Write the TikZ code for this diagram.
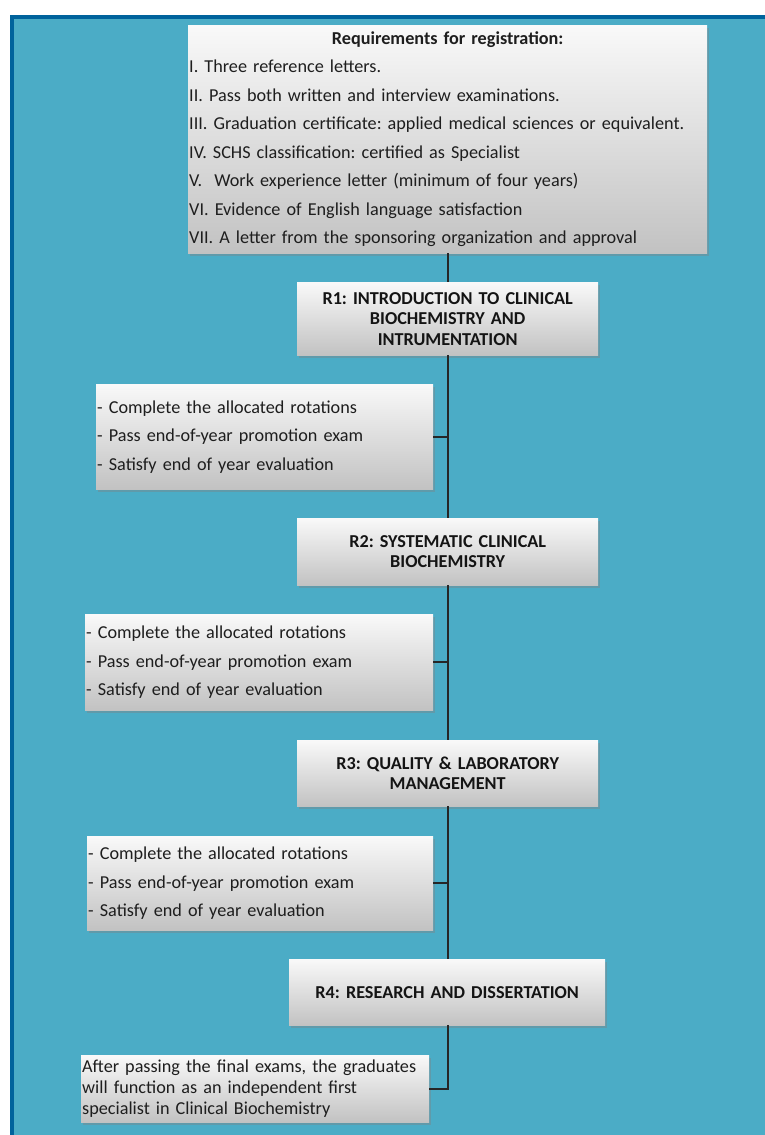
\documentclass[tikz,border=0pt]{standalone}
\usepackage{fontspec}
\setmainfont{Carlito}
\usetikzlibrary{shadows,calc}
\definecolor{bgblue}{HTML}{4BACC6}
\definecolor{frameblue}{HTML}{00639C}
\definecolor{boxtop}{HTML}{F9F9F9}
\definecolor{boxbot}{HTML}{C2C2C2}
\definecolor{txt}{HTML}{1E1E1E}
\begin{document}
\frenchspacing
\begin{tikzpicture}[x=1pt,y=-1pt,
  box/.style={anchor=north west, top color=boxtop, bottom color=boxbot, draw=none,
    inner xsep=1pt, inner ysep=0pt,
    drop shadow={opacity=0.4, shadow xshift=2pt, shadow yshift=-2.5pt},
    text=txt, align=left, font=\fontsize{18.2}{28.5}\selectfont},
  stage/.style={box, align=center, text=black!92, font=\bfseries\fontsize{18.2}{20.5}\selectfont},
  conn/.style={line width=2pt, draw=black!85}]
\useasboundingbox (0,0) rectangle (765,1135);
\fill[bgblue] (10,15) rectangle (765,1135);
\draw[frameblue, line width=4pt] (11.8,1140) -- (11.8,17) -- (770,17);

\node[box, minimum width=519, minimum height=228, text width=517] (req) at (188,25)
 {\makebox[517pt][c]{\bfseries Requirements for registration:}\\
  I. Three reference letters.\\
  II. Pass both written and interview examinations.\\
  III. Graduation certificate: applied medical sciences or equivalent.\\
  IV. SCHS classification: certified as Specialist\\
  V.\ \ Work experience letter (minimum of four years)\\
  VI. Evidence of English language satisfaction\\
  VII. A letter from the sponsoring organization and approval};

\node[stage, minimum width=301, minimum height=73, text width=295] (r1) at (297,282)
 {R1: INTRODUCTION TO CLINICAL\\ BIOCHEMISTRY AND\\ INTRUMENTATION};
\node[box, minimum width=337, minimum height=105, text width=335] (l1) at (96,384)
 {- Complete the allocated rotations\\- Pass end-of-year promotion exam\\- Satisfy end of year evaluation};

\node[stage, minimum width=301, minimum height=67, text width=295] (r2) at (297,518)
 {R2: SYSTEMATIC CLINICAL\\ BIOCHEMISTRY};
\node[box, minimum width=348, minimum height=96, text width=346] (l2) at (85,614)
 {- Complete the allocated rotations\\- Pass end-of-year promotion exam\\- Satisfy end of year evaluation};

\node[stage, minimum width=301, minimum height=66, text width=295] (r3) at (297,740)
 {R3: QUALITY \& LABORATORY\\ MANAGEMENT};
\node[box, minimum width=346, minimum height=94, text width=344] (l3) at (87,836)
 {- Complete the allocated rotations\\- Pass end-of-year promotion exam\\- Satisfy end of year evaluation};

\node[stage, minimum width=316, minimum height=66, text width=310] (r4) at (289,959)
 {R4: RESEARCH AND DISSERTATION};
\node[box, minimum width=348, minimum height=67, text width=346, font=\fontsize{18.2}{21}\selectfont] (fin) at (81,1055)
 {After passing the final exams, the graduates\\ will function as an independent first\\ specialist in Clinical Biochemistry};

\coordinate (sp) at (req.south);
\draw[conn] (req.south) -- (sp |- r1.north);
\draw[conn] (sp |- r1.south) -- (sp |- r2.north);
\draw[conn] (sp |- r2.south) -- (sp |- r3.north);
\draw[conn] (sp |- r3.south) -- (sp |- r4.north);
\draw[conn] (sp |- r4.south) -- (sp |- fin.east) -- (fin.east);
\draw[conn] (l1.east) -- (l1.east -| sp);
\draw[conn] (l2.east) -- (l2.east -| sp);
\draw[conn] (l3.east) -- (l3.east -| sp);
\end{tikzpicture}
\end{document}
